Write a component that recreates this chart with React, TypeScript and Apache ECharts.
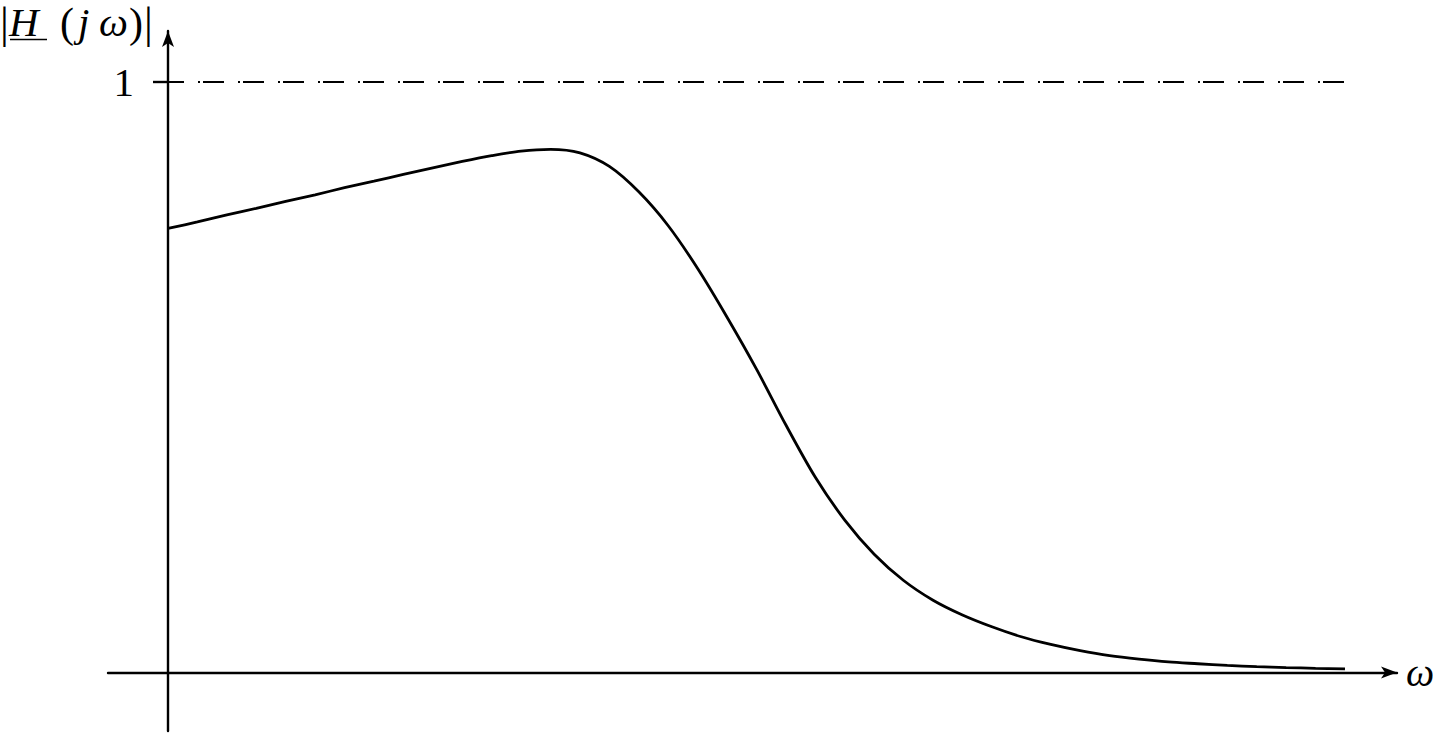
import React, { useEffect, useRef } from "react";
import * as echarts from "echarts";

// Frequency ω (arbitrary units, 0..10) and magnitude |H(jω)|
const omega = [
  0, 0.25, 0.5, 0.75, 1, 1.25, 1.5, 1.75, 2, 2.25, 2.5, 2.75, 3, 3.25, 3.5, 3.75, 4, 4.25, 4.5, 4.75, 5,
  5.25, 5.5, 5.75, 6, 6.25, 6.5, 6.75, 7, 7.25, 7.5, 7.75, 8, 8.25, 8.5, 8.75, 9, 9.25, 9.5, 9.75, 10,
];
const magnitude = [
  0.752, 0.763, 0.775, 0.786, 0.798, 0.809, 0.821, 0.832, 0.8434, 0.8546, 0.8654, 0.8752, 0.883, 0.886, 0.88,
  0.857, 0.814, 0.7566, 0.6842, 0.6017, 0.5138, 0.4191, 0.3306, 0.2581, 0.2003, 0.1558, 0.1224, 0.0974,
  0.0774, 0.0605, 0.0475, 0.037, 0.0285, 0.0225, 0.0178, 0.0148, 0.0119, 0.0099, 0.0084, 0.0071, 0.006,
];

// Reference level |H| = 1 (dash-dot line)
const referenceOmega = [0, 10];
const referenceLevel = [1, 1];

// Y tick labels
const yTickValues = [1];

const SERIF = "Liberation Serif";

export default function App() {
  const ref = useRef<HTMLDivElement>(null);

  useEffect(() => {
    document.body.style.margin = "0";
    if (!ref.current) return;
    const chart = echarts.init(ref.current, undefined, { renderer: "svg" });

    const axisLineStyle = { color: "#000", width: 2.4 };

    const titleParts = [
      { text: "|", x: 0, italic: false, size: 44, y: 1 },
      { text: "H", x: 9, italic: true, size: 41, y: 1.5 },
      { text: "(", x: 60, italic: false, size: 42, y: 2 },
      { text: "j", x: 78, italic: true, size: 41, y: 1.5 },
      { text: "ω", x: 99, italic: true, size: 41, y: 1.5 },
      { text: ")", x: 129, italic: false, size: 42, y: 2 },
      { text: "|", x: 144, italic: false, size: 44, y: 1 },
    ];

    const option: any = {
      animation: false,
      backgroundColor: "#fff",
      grid: {
        left: 108,
        right: 36,
        top: 31,
        bottom: 5,
        containLabel: false,
        outerBoundsMode: "none",
      },
      xAxis: {
        type: "value",
        min: -0.5098,
        max: 10.442,
        axisLine: {
          show: true,
          onZero: true,
          symbol: ["none", "arrow"],
          symbolSize: [9, 16],
          lineStyle: axisLineStyle,
        },
        axisTick: { show: false },
        axisLabel: { show: false },
        splitLine: { show: false },
        name: "ω",
        nameLocation: "end",
        nameGap: 9,
        nameTextStyle: {
          fontFamily: SERIF,
          fontStyle: "italic",
          fontSize: 40,
          color: "#000",
          verticalAlign: "middle",
          padding: [0, 0, 8, 0],
        },
      },
      yAxis: {
        type: "value",
        min: -0.0991,
        max: 1.0864,
        axisLine: {
          show: true,
          onZero: true,
          symbol: ["none", "arrow"],
          symbolSize: [9, 16],
          lineStyle: axisLineStyle,
        },
        axisTick: {
          show: true,
          customValues: yTickValues,
          length: 15,
          lineStyle: axisLineStyle,
        },
        axisLabel: {
          show: true,
          customValues: yTickValues,
          margin: -26,
          fontFamily: SERIF,
          fontSize: 41,
          color: "#000",
        },
        splitLine: { show: false },
      },
      graphic: [
        ...titleParts.map((p) => ({
          type: "text",
          x: p.x,
          y: p.y,
          silent: true,
          style: {
            text: p.text,
            fill: "#000",
            fontFamily: SERIF,
            fontSize: p.size,
            fontStyle: p.italic ? "italic" : "normal",
            align: "left",
            verticalAlign: "top",
          },
        })),
        {
          type: "line",
          silent: true,
          shape: { x1: 10, y1: 39.5, x2: 47, y2: 39.5 },
          style: { stroke: "#000", lineWidth: 1.6 },
        },
      ],
      series: [
        {
          type: "line",
          data: referenceOmega.map((w, i) => [w, referenceLevel[i]]),
          showSymbol: false,
          silent: true,
          lineStyle: { color: "#000", width: 2.2, type: [21, 14, 2, 3], dashOffset: 5 },
        },
        {
          type: "line",
          data: omega.map((w, i) => [w, magnitude[i]]),
          smooth: 0.3,
          showSymbol: false,
          silent: true,
          lineStyle: { color: "#000", width: 2.8 },
        },
      ],
    };

    chart.setOption(option);
    return () => chart.dispose();
  }, []);

  return <div ref={ref} style={{ width: 1433, height: 736 }} />;
}
